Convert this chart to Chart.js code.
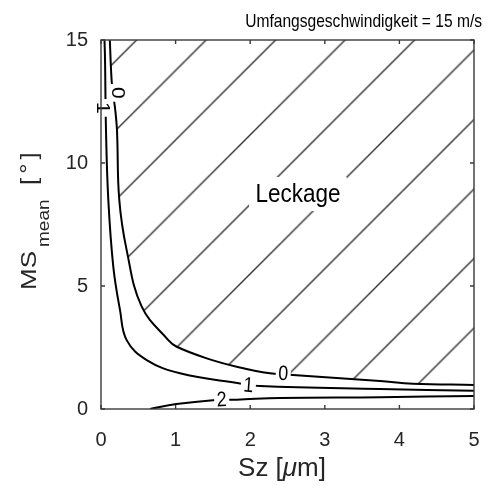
<!DOCTYPE html>
<html>
<head>
<meta charset="utf-8">
<script src="https://cdn.jsdelivr.net/npm/chart.js@4.4.0/dist/chart.umd.min.js"></script>
<style>
  html, body { margin: 0; padding: 0; background: #fff; overflow: hidden; }
  canvas { display: block; }
</style>
</head>
<body>
<canvas id="c" width="489" height="493"></canvas>
<script>
// Werte (Sz in µm, MS_mean in °)
const xTicks = [0, 1, 2, 3, 4, 5];
const yTicks = [0, 5, 10, 15];

const level0 = [
  { x: 0.118, y: 15.0 }, { x: 0.147, y: 13.17 }, { x: 0.188, y: 12.24 }, { x: 0.214, y: 11.34 },
  { x: 0.245, y: 8.50 }, { x: 0.344, y: 6.46 }, { x: 0.546, y: 4.16 }, { x: 0.902, y: 2.80 },
  { x: 1.015, y: 2.53 }, { x: 1.417, y: 2.06 }, { x: 1.819, y: 1.72 }, { x: 2.265, y: 1.45 },
  { x: 2.574, y: 1.38 }, { x: 3.74, y: 1.14 }, { x: 4.18, y: 1.03 }, { x: 5.0, y: 0.98 }
];
const level1 = [
  { x: 0.047, y: 15.0 }, { x: 0.054, y: 14.19 }, { x: 0.067, y: 11.34 }, { x: 0.098, y: 8.50 },
  { x: 0.165, y: 5.78 }, { x: 0.255, y: 4.02 }, { x: 0.344, y: 2.80 }, { x: 0.613, y: 1.99 },
  { x: 1.059, y: 1.45 }, { x: 1.863, y: 1.04 }, { x: 2.131, y: 0.93 }, { x: 3.74, y: 0.81 },
  { x: 5.0, y: 0.74 }
];
const level2 = [
  { x: 0.657, y: 0.0 }, { x: 1.01, y: 0.20 }, { x: 1.50, y: 0.36 }, { x: 1.82, y: 0.38 },
  { x: 2.40, y: 0.45 }, { x: 3.74, y: 0.48 }, { x: 5.0, y: 0.53 }
];

const contourLabels = [
  { text: '0', x: 0.228, y: 12.85, rot: 90 },
  { text: '1', x: 0.027, y: 12.24, rot: 90 },
  { text: '0', x: 2.443, y: 1.45, rot: 3 },
  { text: '1', x: 1.975, y: 0.98, rot: 5 },
  { text: '2', x: 1.618, y: 0.39, rot: -3 }
];
const regionLabel = { text: 'Leckage', x: 2.64, y: 8.74 };

const titleText = 'Umfangsgeschwindigkeit = 15 m/s';
const xTitle = ['Sz [', 'μ', 'm]'];
const yTitle = ['MS', 'mean', '[°]'];

const FONT = '"Liberation Sans", Arial, sans-serif';

// Text mit horizontaler Stauchung (schmalere Helvetica im Original)
function text(ctx, str, x, y, size, opt = {}) {
  ctx.save();
  ctx.translate(x, y);
  ctx.scale(opt.sx || 1, 1);
  if (opt.rot) ctx.rotate(opt.rot * Math.PI / 180);
  ctx.font = `${size}px ${FONT}`;
  ctx.textAlign = opt.align || 'center';
  ctx.textBaseline = opt.baseline || 'middle';
  if (opt.bg) {
    const w = ctx.measureText(str).width;
    ctx.fillStyle = '#fff';
    ctx.fillRect(-w / 2 - opt.bg[0], -opt.bg[1], w + 2 * opt.bg[0], 2 * opt.bg[1]);
  }
  ctx.fillStyle = opt.color || '#000';
  ctx.fillText(str, 0, opt.dy || 0);
  ctx.restore();
}

// Schraffur als Muster (Linien unter 45°, Abstand ~69.5 px)
function makeHatch() {
  const T = 70;
  const c = document.createElement('canvas');
  c.width = T; c.height = T;
  const g = c.getContext('2d');
  g.strokeStyle = '#333';
  g.lineWidth = 1.4;
  [0, T, 2 * T].forEach(s => {
    g.beginPath();
    g.moveTo(-2, s + 2);
    g.lineTo(s + 2, -2);
    g.stroke();
  });
  const p = g.createPattern(c, 'repeat');
  const k = 69.5 / T;
  p.setTransform(new DOMMatrix([k, 0, 0, k, 37.5, 0]));
  return p;
}

const overlay = {
  id: 'overlay',
  afterDatasetsDraw(chart) {
    const { ctx, chartArea: a, scales: { x, y } } = chart;

    contourLabels.forEach(l => {
      text(ctx, l.text, x.getPixelForValue(l.x), y.getPixelForValue(l.y), 21,
        { sx: 0.85, rot: l.rot, bg: [3, 9], dy: 1 });
    });

    text(ctx, regionLabel.text, x.getPixelForValue(regionLabel.x), y.getPixelForValue(regionLabel.y), 25,
      { sx: 0.9, bg: [7, 17], dy: 1 });

    // Rahmen und Ticks nach innen
    ctx.save();
    ctx.strokeStyle = '#3a3a3a';
    ctx.lineWidth = 1.4;
    ctx.strokeRect(a.left, a.top, a.right - a.left, a.bottom - a.top);
    const tl = 4;
    ctx.beginPath();
    xTicks.forEach(v => {
      const px = x.getPixelForValue(v);
      ctx.moveTo(px, a.bottom); ctx.lineTo(px, a.bottom - tl);
      ctx.moveTo(px, a.top); ctx.lineTo(px, a.top + tl);
    });
    yTicks.forEach(v => {
      const py = y.getPixelForValue(v);
      ctx.moveTo(a.left, py); ctx.lineTo(a.left + tl, py);
      ctx.moveTo(a.right, py); ctx.lineTo(a.right - tl, py);
    });
    ctx.stroke();
    ctx.restore();
  },
  afterDraw(chart) {
    const { ctx, chartArea: a } = chart;
    text(ctx, titleText, a.right + 8, 27, 19, { sx: 0.82, align: 'right', baseline: 'alphabetic' });

    // x-Achse, µ kursiv
    ctx.save();
    ctx.fillStyle = '#262626';
    ctx.textBaseline = 'alphabetic';
    ctx.textAlign = 'left';
    const fonts = [`26px ${FONT}`, `italic 26px ${FONT}`, `26px ${FONT}`];
    let total = 0;
    const widths = xTitle.map((s, i) => { ctx.font = fonts[i]; const w = ctx.measureText(s).width; total += w; return w; });
    let px = 282 - total / 2;
    xTitle.forEach((s, i) => { ctx.font = fonts[i]; ctx.fillText(s, px, 476); px += widths[i]; });
    ctx.restore();

    // y-Achse mit Index
    ctx.save();
    ctx.translate(36, 290);
    ctx.scale(0.85, 1);
    ctx.rotate(-Math.PI / 2);
    ctx.fillStyle = '#262626';
    ctx.textAlign = 'left';
    ctx.textBaseline = 'alphabetic';
    ctx.font = `26px ${FONT}`;
    ctx.fillText(yTitle[0], 0, 0);
    ctx.font = `19px ${FONT}`;
    ctx.fillText(yTitle[1], 43, 15);
    ctx.font = `26px ${FONT}`;
    ctx.letterSpacing = '4px';
    ctx.fillText(yTitle[2], 105, 0);
    ctx.restore();
  }
};

const lineStyle = {
  borderColor: '#000',
  borderWidth: 2,
  pointRadius: 0,
  tension: 0.4,
  fill: false
};

new Chart(document.getElementById('c'), {
  type: 'line',
  data: {
    datasets: [
      { ...lineStyle, label: '0', data: level0, fill: 'end', backgroundColor: makeHatch() },
      { ...lineStyle, label: '1', data: level1 },
      { ...lineStyle, label: '2', data: level2 }
    ]
  },
  options: {
    responsive: false,
    animation: false,
    layout: { padding: { top: 40, right: 15, left: 0, bottom: 0 } },
    plugins: { legend: { display: false }, tooltip: { enabled: false } },
    scales: {
      x: {
        type: 'linear', min: 0, max: 5,
        afterBuildTicks: s => { s.ticks = xTicks.map(v => ({ value: v })); },
        // kleines padding, sonst schrumpft die Zeichenfläche rechts; Abstand über lineHeight
        ticks: { color: '#262626', font: { family: FONT, size: 20, lineHeight: 2.8 }, padding: 3 },
        grid: { display: false, drawTicks: false },
        border: { display: false },
        afterFit: s => { s.height = 84; }
      },
      y: {
        type: 'linear', min: 0, max: 15,
        afterBuildTicks: s => { s.ticks = yTicks.map(v => ({ value: v })); },
        ticks: { color: '#262626', font: { family: FONT, size: 20 }, padding: 13 },
        grid: { display: false, drawTicks: false },
        border: { display: false },
        afterFit: s => { s.width = 101; }
      }
    }
  },
  plugins: [overlay]
});
</script>
</body>
</html>
